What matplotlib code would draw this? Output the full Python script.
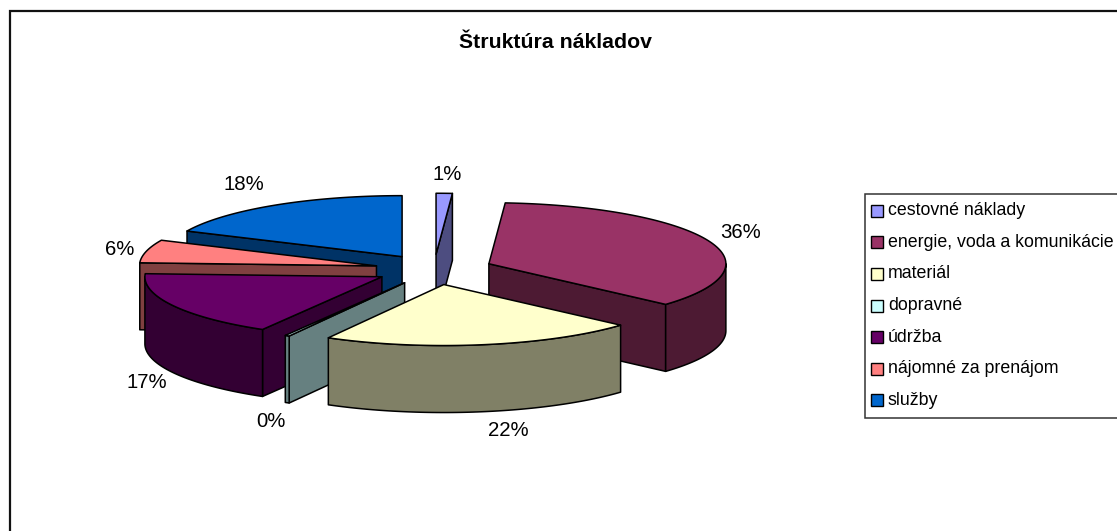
import numpy as np
import matplotlib
matplotlib.use('Agg')
import matplotlib.pyplot as plt
from matplotlib.patches import Polygon, Rectangle

plt.rcParams['font.family'] = ['Liberation Sans', 'DejaVu Sans']

title = 'Štruktúra nákladov'
categories = ['cestovné náklady', 'energie, voda a komunikácie', 'materiál', 'dopravné',
              'údržba', 'nájomné za prenájom', 'služby']
shares = [1.1, 35.5, 21.5, 0.3, 17.4, 6.1, 18.1]
top_colors = ['#9999FF', '#993366', '#FFFFCC', '#CCFFFF', '#660066', '#FF8080', '#0066CC']
side_colors = ['#4D4D80', '#4D1A33', '#808066', '#668080', '#330033', '#804040', '#003366']

# pie layout, in pixels of the figure
CX, CY = 434, 269.5
RX, RY = 237, 61
DEPTH = 67
EXPLODE = 0.25
# label nudges from the rim point of each slice
label_nudge = [(3, -19), (32, -8), (25, 19), (-16, 19), (-27, 10), (-27, -2), (-31, -21)]


def rim(cx, cy, angles):
	# angles in degrees, clockwise from 12 o'clock
	a = np.radians(angles)
	return cx + RX * np.sin(a), cy - RY * np.cos(a)


def add_poly(ax, xs, ys, color, z):
	ax.add_patch(Polygon(np.column_stack([xs, ys]), closed=True, facecolor=color,
						 edgecolor='black', linewidth=1.1, joinstyle='round', zorder=z))


fig = plt.figure(figsize=(11.17, 5.31), dpi=100)
ax = fig.add_axes([0, 0, 1, 1])
ax.set_xlim(0, 1117)
ax.set_ylim(531, 0)
ax.axis('off')

# chart frame, right and bottom run off the picture
ax.plot([9.5, 9.5, 1117], [531, 10.5, 10.5], color='#111111', lw=1.6, solid_joinstyle='miter')

ax.text(555.5, 42, title, ha='center', va='center', fontsize=15.3, fontweight='bold', color='black')

ends = np.cumsum(shares) * 3.6
starts = ends - np.array(shares) * 3.6
mids = (starts + ends) / 2

centers_x = CX + EXPLODE * RX * np.sin(np.radians(mids))
centers_y = CY - EXPLODE * RY * np.cos(np.radians(mids))

# back slices first
order = np.argsort(centers_y)
for k, i in enumerate(order):
	z = 2 + k
	cx, cy = centers_x[i], centers_y[i]
	s, e = starts[i], ends[i]

	# cut faces that look towards the viewer
	for ang, show in ((s, np.sin(np.radians(s)) < 0), (e, np.sin(np.radians(e)) > 0)):
		if show:
			x, y = rim(cx, cy, np.array([ang]))
			add_poly(ax, [cx, x[0], x[0], cx], [cy, y[0], y[0] + DEPTH, cy + DEPTH], side_colors[i], z)

	# outer wall, front half only
	lo, hi = max(s, 90), min(e, 270)
	if hi > lo:
		x, y = rim(cx, cy, np.linspace(lo, hi, 80))
		add_poly(ax, np.r_[x, x[::-1]], np.r_[y, y[::-1] + DEPTH], side_colors[i], z)

	# top of the slice
	x, y = rim(cx, cy, np.linspace(s, e, 120))
	add_poly(ax, np.r_[cx, x], np.r_[cy, y], top_colors[i], z)

	# percentage label
	x, y = rim(cx, cy, np.array([mids[i]]))
	front = DEPTH if np.cos(np.radians(mids[i])) < 0 else 0
	ax.text(x[0] + label_nudge[i][0], y[0] + front + label_nudge[i][1], '%.0f%%' % shares[i],
			ha='center', va='center', fontsize=14.7, color='black', zorder=20)

# legend box
ax.add_patch(Rectangle((865, 193.5), 270, 224, facecolor='white', edgecolor='#333333', linewidth=1.1, zorder=30))
for i, name in enumerate(categories):
	row_y = 210.7 + i * 31.6
	ax.add_patch(Rectangle((871, row_y - 6), 12, 12, facecolor=top_colors[i], edgecolor='black',
						   linewidth=1.0, zorder=31))
	ax.text(888, row_y, name, ha='left', va='center', fontsize=12.75, color='black', zorder=31)

fig.savefig('out.png', dpi=100)
